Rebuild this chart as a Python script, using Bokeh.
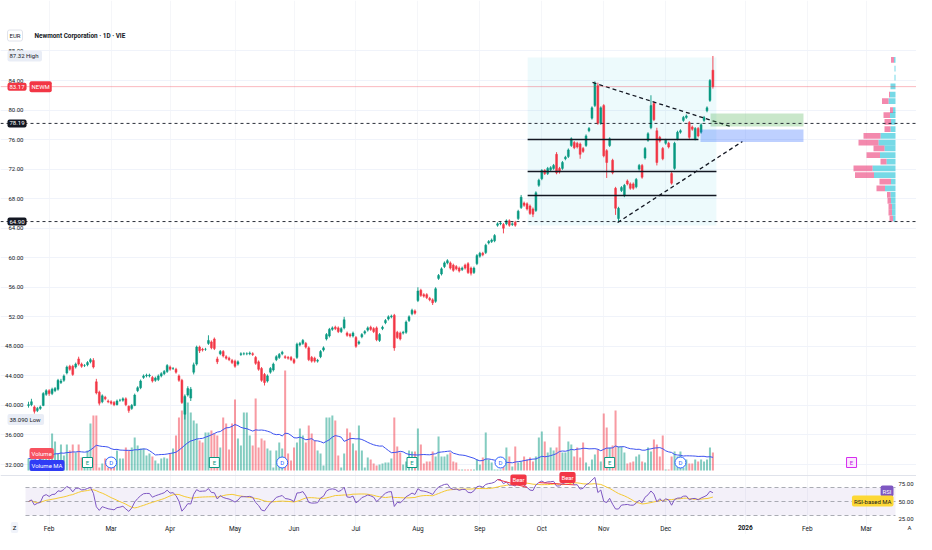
import numpy as np
import pandas as pd
from bokeh.plotting import figure
from bokeh.models import Range1d, LinearAxis, FixedTicker, Span, BoxAnnotation, Label, ColumnDataSource
from bokeh.embed import file_html
from bokeh.resources import INLINE
from bokeh.core.properties import value

# ---------------- data ----------------
O = [40.0,40.1,39.8,39.3,39.6,40.0,41.5,42.0,41.6,42.0,
     42.2,43.1,43.4,44.4,45.3,45.3,45.2,46.3,45.6,45.4,
     45.5,45.9,46.1,43.2,41.8,40.5,41.1,40.6,40.5,40.4,
     40.1,40.7,40.7,40.9,39.9,39.6,40.0,42.0,42.4,43.8,
     44.0,44.0,43.8,43.4,43.5,44.0,44.3,44.6,45.2,45.0,
     44.9,44.0,43.4,38.8,41.4,41.0,44.5,45.6,47.9,47.6,
     47.6,48.4,48.6,49.0,46.3,47.0,47.3,46.6,46.4,46.1,
     46.0,45.6,46.9,47.0,47.0,47.0,47.0,46.5,45.9,45.0,
     44.2,43.3,44.5,44.8,46.2,46.5,47.0,46.6,46.5,46.5,
     46.2,46.5,48.2,48.4,48.4,47.8,46.5,46.4,46.0,46.6,
     47.5,49.0,49.4,50.3,50.6,50.5,50.0,50.5,49.8,49.6,
     49.4,49.2,48.4,49.3,49.8,50.2,50.6,50.4,50.5,48.8,
     50.4,51.2,51.7,52.0,52.2,49.9,49.8,49.8,49.9,51.5,
     52.4,52.8,54.2,55.6,55.0,55.0,54.5,54.3,54.1,57.2,
     57.8,58.8,59.3,59.3,59.0,58.8,58.6,58.4,59.0,59.2,
     58.6,58.0,59.2,60.2,60.6,60.7,62.0,62.2,62.3,64.4,
     64.6,64.5,64.6,65.0,64.5,64.8,65.3,66.8,67.4,67.3,
     67.0,66.6,66.4,69.8,70.7,71.8,71.4,71.9,72.1,74.0,
     72.1,72.1,73.4,73.7,75.2,75.6,75.5,75.4,74.8,75.2,
     77.2,78.9,80.6,83.3,78.2,80.6,74.5,75.2,73.2,69.4,
     65.3,69.1,68.4,70.4,70.0,70.0,69.6,72.0,72.5,73.5,
     75.9,77.6,80.9,77.2,76.3,74.8,75.5,75.5,71.4,72.1,
     76.1,77.0,78.6,79.0,78.3,77.7,76.1,77.5,77.0,78.6,
     79.9,81.3,85.4]
C = [40.1,40.5,39.2,39.6,39.8,41.6,42.0,41.6,42.2,42.3,
     43.4,43.3,44.0,45.2,44.9,44.2,45.6,45.6,45.3,45.4,
     45.8,46.2,45.2,41.7,40.3,41.3,40.9,40.5,40.3,40.1,
     40.6,40.7,40.9,40.1,39.3,40.0,41.4,42.4,43.3,44.0,
     44.1,44.1,43.3,43.7,44.0,44.3,44.6,45.4,44.9,45.0,
     44.5,43.4,40.4,41.2,42.3,42.2,45.5,47.9,47.4,47.5,
     47.6,48.8,47.8,47.7,45.9,47.3,46.7,46.4,46.2,45.8,
     45.3,45.9,47.0,47.0,47.0,47.1,46.9,45.7,44.9,43.4,
     43.1,44.0,45.0,45.6,46.6,46.9,47.2,46.5,46.4,46.2,
     45.8,48.3,48.4,48.8,47.9,46.2,46.0,46.0,46.1,47.3,
     47.8,49.6,50.3,50.5,50.4,50.0,50.4,51.6,49.5,49.4,
     49.8,48.0,48.6,49.6,50.0,50.5,50.3,50.0,48.9,49.6,
     50.6,51.5,52.0,52.1,47.8,49.2,49.0,49.9,51.3,52.0,
     52.9,52.5,55.5,54.9,54.8,54.6,54.3,53.9,55.8,57.6,
     58.5,59.3,59.6,58.6,58.3,58.5,58.2,58.6,58.6,58.0,
     57.9,58.6,60.3,60.6,60.4,61.7,62.2,62.4,63.0,64.6,
     64.7,64.0,65.0,64.4,64.6,64.4,66.3,68.2,67.1,66.6,
     66.0,65.9,68.8,70.5,71.8,71.4,72.1,72.2,72.5,71.5,
     71.6,72.9,73.6,74.6,76.1,74.9,75.0,74.0,74.4,76.5,
     77.5,80.3,83.6,78.2,80.3,73.8,72.9,76.1,71.5,66.7,
     66.7,69.5,69.8,70.0,69.4,69.4,70.6,72.5,70.9,74.8,
     76.8,80.6,78.7,72.9,75.8,73.4,75.9,75.0,70.1,75.5,
     77.0,77.2,79.0,79.2,76.3,77.4,77.5,76.5,78.0,79.0,
     80.3,84.0,83.17]
H = [40.5,40.9,40.0,39.8,40.0,41.8,42.2,42.2,42.4,42.5,
     43.6,43.6,44.2,45.4,45.5,45.5,45.8,46.6,45.8,45.6,
     46.0,46.4,46.4,43.6,42.0,41.5,41.3,40.8,40.7,40.6,
     40.8,40.9,41.1,41.1,40.0,40.2,41.6,42.6,43.5,44.2,
     44.3,44.3,44.0,43.9,44.2,44.5,44.8,45.6,45.4,45.2,
     45.1,44.2,43.6,41.5,42.6,42.5,45.8,48.1,48.1,47.8,
     47.8,49.5,48.8,49.2,46.6,47.5,47.5,46.8,46.6,46.3,
     46.2,46.1,47.2,47.2,47.2,47.3,47.2,46.7,46.1,45.2,
     44.4,44.2,45.2,45.8,46.8,47.1,47.4,46.8,46.7,46.7,
     46.4,48.5,48.6,49.0,48.6,48.0,46.7,46.6,46.3,47.5,
     48.0,49.8,50.5,50.7,50.8,50.7,50.6,52.0,50.0,49.8,
     50.0,49.4,48.8,49.8,50.2,50.7,50.8,50.6,50.7,49.8,
     50.8,51.7,52.2,52.3,52.4,50.1,50.0,50.1,51.5,52.2,
     53.1,53.0,56.0,55.8,55.2,55.2,54.7,54.5,56.0,57.8,
     58.7,59.5,59.8,59.5,59.2,59.0,58.8,58.8,59.2,59.4,
     58.8,58.8,60.5,60.8,60.8,61.9,62.4,62.6,63.2,64.8,
     64.9,64.7,65.2,65.2,64.8,65.0,66.5,68.5,67.6,67.5,
     67.2,66.8,69.0,70.7,72.0,72.0,72.3,72.4,72.7,74.3,
     72.3,73.1,73.8,74.8,76.3,75.8,75.7,75.6,75.0,76.7,
     77.7,80.5,83.9,83.7,80.5,80.8,74.7,76.3,73.4,69.6,
     66.9,69.7,70.0,70.6,70.2,70.2,70.8,72.7,72.7,75.0,
     77.0,82.0,81.1,77.6,76.5,75.0,76.1,75.7,71.6,75.7,
     77.2,77.4,79.2,79.4,78.5,77.9,77.7,77.7,78.2,79.2,
     80.5,84.2,87.32]
L = [39.7,39.9,38.9,39.1,39.4,39.9,41.3,41.3,41.4,41.8,
     42.0,42.9,43.2,44.2,44.7,44.0,45.0,45.4,45.1,45.2,
     45.3,45.7,45.0,41.5,40.0,40.3,40.7,40.3,40.1,39.9,
     40.0,40.5,40.5,39.9,39.0,39.4,39.9,41.8,42.2,43.6,
     43.8,43.8,43.1,43.2,43.3,43.8,44.1,44.4,44.7,44.8,
     44.3,43.2,40.2,38.09,41.2,40.6,44.2,45.4,47.1,47.3,
     47.4,48.2,47.6,47.5,45.6,46.8,46.5,46.2,46.0,45.6,
     45.1,45.4,46.7,46.8,46.8,46.8,46.7,45.5,44.7,43.2,
     42.7,43.1,44.3,44.6,46.0,46.3,46.8,46.3,46.2,46.0,
     45.6,46.3,48.0,48.2,47.7,46.0,45.8,45.8,45.8,46.4,
     47.3,48.8,49.2,50.1,50.2,49.8,49.8,50.3,49.3,49.2,
     49.2,47.8,48.2,49.1,49.6,50.0,50.1,49.8,48.7,48.6,
     50.2,51.0,51.5,51.8,47.4,49.0,48.8,49.6,49.7,51.3,
     52.2,52.3,54.0,54.7,54.6,54.4,54.1,53.6,53.9,57.0,
     57.6,58.6,59.1,58.4,58.1,58.3,58.0,58.2,58.4,57.8,
     57.6,57.8,59.0,60.0,60.2,60.5,61.8,62.0,62.1,64.2,
     64.4,63.3,64.4,64.2,64.3,64.2,65.1,66.6,66.9,66.4,
     65.8,65.5,66.2,69.6,70.5,71.2,71.2,71.7,71.9,71.3,
     71.4,71.9,73.2,73.5,75.0,74.7,74.8,73.4,74.2,75.0,
     77.0,78.7,80.4,78.0,78.0,73.6,70.8,75.0,71.3,65.8,
     64.9,68.9,68.2,69.8,69.2,69.2,69.4,71.8,70.7,73.3,
     75.7,77.4,78.5,72.5,75.6,73.2,75.3,74.8,69.9,71.9,
     75.9,76.8,78.4,78.8,76.1,77.2,75.9,76.3,76.8,78.4,
     79.7,81.1,82.9]
VOL = [12,12,10,5,17,17,15,13,37,29,
       17,26,15,26,20,26,18,26,13,13,
       20,47,55,55,3,7,12,3,6,12,
       20,12,12,23,20,23,33,25,22,22,
       15,17,14,10,7,12,13,12,17,22,
       35,53,60,75,68,58,50,47,30,28,
       38,38,40,37,35,23,53,47,21,47,
       71,32,25,58,58,35,25,72,23,32,
       30,22,20,3,20,28,22,100,17,10,
       23,28,42,35,28,45,37,30,20,17,
       5,53,53,55,50,15,3,17,42,38,
       27,20,45,20,3,13,11,7,5,6,
       7,8,8,12,53,24,18,6,9,20,
       19,19,42,26,7,9,9,19,14,34,
       14,14,16,18,9,8,1,1,1,1,
       1,1,11,6,13,38,11,8,1,1,
       1,9,23,14,4,24,8,9,14,11,
       13,9,14,33,39,29,18,23,20,23,
       44,18,18,29,26,14,23,13,28,8,
       4,11,16,21,9,57,43,23,25,60,
       24,24,18,7,8,9,14,16,9,8,
       23,19,31,26,14,35,1,1,14,19,
       14,19,3,11,7,7,11,9,11,9,
       11,23,18]

month_pos = [7, 28, 48, 70, 90, 111, 132, 153, 174, 195, 216, 243, 264, 284]
month_lbl = ["Feb", "Mar", "Apr", "May", "Jun", "Jul", "Aug", "Sep", "Oct", "Nov", "Dec", "2026", "Feb", "Mar"]

price_ticks = [32, 36, 40, 44, 48, 52, 56, 60, 64, 68, 72, 76, 80, 84, 88]
price_tick_lbl = ["32.000", "36.000", "40.000", "44.000", "48.000", "52.00", "56.00", "60.00",
                  "64.00", "68.00", "72.00", "76.00", "80.00", "84.00", "88.00"]
rsi_ticks = [25, 50, 75]
rsi_tick_lbl = ["25.00", "50.00", "75.00"]

levels = [78.19, 64.90]           # dashed horizontal levels
high_val, low_val = 87.32, 38.09

# chart drawings (bar index / price)
pattern_box = dict(left=169.2, right=233.2, bottom=64.37, top=87.11)
hlines_x0 = [169.2, 169.2, 169.2]
hlines_x1 = [227.1, 233.2, 233.2]
hlines_y = [76.01, 71.68, 68.43]
tri_x0 = [191.2, 199.7]
tri_y0 = [83.73, 64.77]
tri_x1 = [238.0, 242.0]
tri_y1 = [77.77, 75.74]
zone_green = dict(left=231.2, right=262.7, bottom=77.77, top=79.53)
zone_blue = dict(left=227.8, right=262.7, bottom=75.67, top=77.37)

# volume profile (price row, down volume, up volume)
vp_price = [86.8, 85.6, 84.4, 83.2, 82.1, 81.2, 80.0, 79.3, 78.4, 77.4, 76.5, 75.6, 74.8,
            73.9, 73.0, 72.1, 71.2, 70.3, 69.4, 68.5, 67.7, 66.9, 66.1, 65.3]
vp_down = [3, 0, 0, 0, 1, 6.5, 3, 6.5, 6.5, 6, 17, 20, 11, 13.5, 6, 19, 19, 11.5, 8.5,
           3.5, 3.5, 3.5, 3.5, 3.5]
vp_up = [1.5, 1, 1, 5, 5.5, 7, 2.5, 5.5, 4.5, 5, 15, 17, 11, 15.5, 9, 23, 21.5, 4.5, 10.5,
         5, 4.5, 3.5, 3.5, 2.5]

earn_idx = [20, 63, 130, 197]
div_idx = [28, 86, 160, 221]
next_earn_idx = [279]
bear_from = [159, 173]
bear_to = [169, 185]

# ---------------- layout helpers (canvas pixel <-> data) ----------------
W, HGT = 916, 534
DX = 2.95                   # px per bar
X0 = 28.0                   # x of bar 0
PANE_R = 895                # right edge of the panes (volume profile anchor)
def px2idx(px):
    return (px - X0) / DX
def py2price(py):
    return 84 - (py - 80) / 7.385
RSI70_Y, RSI_PX = 487.0, 0.7
def py2rsi(py):
    return 70 - (py - RSI70_Y) / RSI_PX
def py2vol(py):
    return 470 - py

GREEN = "#089981"
RED = "#f23645"
TXT = "#131722"
FONT = "Roboto"

# ---------------- indicators ----------------
c = np.array(C)
d = np.diff(c)
g = np.clip(d, 0, None)
ls = np.clip(-d, 0, None)
seed = np.mean(np.abs(d[:14])) / 2
ag, al = [seed], [seed]
for gi, li in zip(g, ls):
    ag.append((ag[-1] * 13 + gi) / 14)
    al.append((al[-1] * 13 + li) / 14)
ag, al = np.array(ag), np.array(al)
rsi = 100 - 100 / (1 + ag / al)
rsi_ma = pd.Series(rsi).rolling(14, min_periods=1).mean().values
vol_ma = pd.Series(VOL, dtype=float).rolling(20, min_periods=1).mean().values

idx = np.arange(len(C))
up = c >= np.array(O)
col = np.where(up, GREEN, RED)
src = ColumnDataSource(dict(x=idx, o=O, h=H, l=L, c=C, v=VOL, col=col))

# ---------------- figure ----------------
p = figure(width=W, height=HGT, output_backend="svg", toolbar_location=None,
           x_range=Range1d(px2idx(0), px2idx(W)),
           y_range=Range1d(py2price(HGT), py2price(0)),
           min_border=0, min_border_left=0, min_border_right=0, min_border_top=0, min_border_bottom=0)
p.extra_y_ranges = {"vol": Range1d(py2vol(HGT), py2vol(0)),
                    "rsi": Range1d(py2rsi(HGT), py2rsi(0))}
p.extra_x_ranges = {"vp": Range1d(PANE_R, PANE_R - W)}   # 0 at the pane's right edge, growing leftwards
p.outline_line_color = None
p.background_fill_color = "white"
p.border_fill_color = "white"

# axes (drawn at fixed positions so their labels sit where the reference has them)
ya = p.yaxis[0]
ya.ticker = FixedTicker(ticks=price_ticks)
ya.major_label_overrides = {t: s for t, s in zip(price_ticks, price_tick_lbl)}
ya.fixed_location = px2idx(25)
ya.major_label_standoff = 2
ya.major_label_text_font_size = "6px"
xa = p.xaxis[0]
xa.ticker = FixedTicker(ticks=month_pos)
xa.major_label_overrides = {t: ("" if s == "2026" else s) for t, s in zip(month_pos, month_lbl)}
xa.fixed_location = py2price(522)
xa.major_label_standoff = 2
xa.major_label_text_font_size = "6.5px"

rax = LinearAxis(y_range_name="rsi", ticker=FixedTicker(ticks=rsi_ticks),
                 major_label_overrides={t: s for t, s in zip(rsi_ticks, rsi_tick_lbl)})
rax.fixed_location = px2idx(PANE_R + 1)
rax.major_label_text_font_size = "6px"
rax.major_label_standoff = 2
p.add_layout(rax, "right")
for ax in (ya, xa, rax):
    ax.axis_line_color = None
    ax.major_tick_line_color = None
    ax.minor_tick_line_color = None
    ax.major_tick_out = 0
    ax.major_tick_in = 0
    ax.minor_tick_out = 0
    ax.minor_tick_in = 0
    ax.major_label_text_font = FONT
    ax.major_label_text_color = TXT

p.ygrid.grid_line_color = "#f0f3fa"
p.xgrid.grid_line_color = "#f5f6f9"

# RSI pane decorations
p.add_layout(BoxAnnotation(left=px2idx(25), right=px2idx(PANE_R), bottom=30, top=70, y_range_name="rsi",
                           fill_color="#7e57c2", fill_alpha=0.09, line_color=None, level="underlay"))
band_x0 = [px2idx(25)] * 3
band_x1 = [px2idx(PANE_R)] * 3
p.segment(x0=band_x0, x1=band_x1, y0=[70, 50, 30], y1=[70, 50, 30], y_range_name="rsi",
          line_color="#9598a1", line_dash="4 3", line_width=0.8)
p.add_layout(Span(location=py2rsi(475), dimension="width", y_range_name="rsi",
                  line_color="#e0e3eb", line_width=1))

# pattern box
p.quad(left=[pattern_box["left"]], right=[pattern_box["right"]], bottom=[pattern_box["bottom"]],
       top=[pattern_box["top"]], fill_color="#00bcd4", fill_alpha=0.07, line_color=None)

# price lines
p.add_layout(Span(location=C[-1], dimension="width", line_color=RED, line_alpha=0.35, line_width=1))
for lv in levels:
    p.add_layout(Span(location=lv, dimension="width", line_color=TXT, line_dash="3 3", line_width=0.9))

# volume
p.vbar(x="x", width=0.68, top="v", bottom=0, fill_color="col", fill_alpha=0.5, line_color=None,
       y_range_name="vol", source=src)
p.line(idx, vol_ma, line_color="#3d52f0", line_width=1, y_range_name="vol")

# candles
p.segment(x0="x", y0="l", x1="x", y1="h", line_color="col", line_width=0.9, source=src)
p.vbar(x="x", width=0.64, top="o", bottom="c", fill_color="col", line_color="col", line_width=0.5,
       source=src)

# drawings
p.segment(x0=hlines_x0, y0=hlines_y, x1=hlines_x1, y1=hlines_y, line_color=TXT, line_width=1.4)
p.segment(x0=tri_x0, y0=tri_y0, x1=tri_x1, y1=tri_y1, line_color=TXT, line_width=1.3, line_dash="4 3")
p.quad(left=[zone_green["left"]], right=[zone_green["right"]], bottom=[zone_green["bottom"]],
       top=[zone_green["top"]], fill_color="#4caf50", fill_alpha=0.3, line_color=None)
p.quad(left=[zone_blue["left"]], right=[zone_blue["right"]], bottom=[zone_blue["bottom"]],
       top=[zone_blue["top"]], fill_color="#2962ff", fill_alpha=0.3, line_color=None)

# volume profile
vp_tot = [u + dn for u, dn in zip(vp_up, vp_down)]
p.hbar(y=vp_price, height=0.78, left=0, right=vp_up, x_range_name="vp",
       fill_color="#22c1d6", fill_alpha=0.62, line_color=None)
p.hbar(y=vp_price, height=0.78, left=vp_up, right=vp_tot, x_range_name="vp",
       fill_color="#ec407a", fill_alpha=0.62, line_color=None)

# RSI
p.line(idx, rsi_ma, line_color="#f5c932", line_width=1, y_range_name="rsi")
p.line(idx, rsi, line_color="#7e57c2", line_width=1, y_range_name="rsi")
p.segment(x0=bear_from, y0=[rsi[i] for i in bear_from], x1=bear_to, y1=[rsi[i] for i in bear_to],
          line_color=RED, line_width=1, y_range_name="rsi")

# event markers
mk_y = py2vol(462)
p.scatter(x=earn_idx, y=[mk_y] * len(earn_idx), marker="square", size=10, fill_color="white",
          line_color=GREEN, line_width=1, y_range_name="vol")
p.text(x=earn_idx, y=[mk_y] * len(earn_idx), text=["E"] * len(earn_idx), text_font=value(FONT),
       text_font_size="6px", text_color=GREEN, text_align="center", text_baseline="middle",
       y_range_name="vol")
p.scatter(x=div_idx, y=[mk_y] * len(div_idx), marker="circle", size=11, fill_color="white",
          line_color="#2962ff", line_width=1, y_range_name="vol")
p.text(x=div_idx, y=[mk_y] * len(div_idx), text=["D"] * len(div_idx), text_font=value(FONT),
       text_font_size="6px", text_color="#2962ff", text_align="center", text_baseline="middle",
       y_range_name="vol")
p.scatter(x=next_earn_idx, y=[mk_y], marker="square", size=10, fill_color="#fbe9fd",
          line_color="#d62bf0", line_width=1, y_range_name="vol")
p.text(x=next_earn_idx, y=[mk_y], text=["E"], text_font=value(FONT), text_font_size="6px",
       text_color="#c21fe0", text_align="center", text_baseline="middle", y_range_name="vol")

# ---------------- tags / labels ----------------
def tag(text, x, y, bg, fg, yr="default", align="left", size="6px", style="normal", border=None,
        baseline="middle", yoff=0):
    lab = Label(x=x, y=y, text=text, y_range_name=yr, text_align=align, text_baseline=baseline,
                text_font=FONT, text_font_size=size, text_color=fg, text_font_style=style,
                background_fill_color=bg, background_fill_alpha=1.0 if bg else 0.0,
                border_line_color=border, padding=2, border_radius=2, y_offset=yoff)
    p.add_layout(lab)

tag("EUR", px2idx(7), py2price(35), "white", TXT, border="#e0e3eb")
tag("Newmont Corporation \u00b7 1D \u00b7 VIE", px2idx(32), py2price(35), None, TXT, size="6.4px", style="bold")
tag("%.2f  High" % high_val, px2idx(7), high_val, "#e9edf6", TXT)
tag("%.2f" % C[-1], px2idx(7), C[-1], RED, "white")
tag("NEWM", px2idx(29), C[-1], RED, "white")
tag("%.2f" % levels[0], px2idx(7), levels[0], TXT, "white")
tag("%.2f" % levels[1], px2idx(7), levels[1], TXT, "white")
tag("%.3f  Low" % low_val, px2idx(7), low_val, "#e9edf6", TXT)
tag("Volume", px2idx(29), py2vol(453), "#f7525f", "white", yr="vol")
tag("Volume MA", px2idx(29), py2vol(465), "#2f3cf5", "white", yr="vol")
tag("RSI", px2idx(PANE_R - 2), py2rsi(490.5), "#7e57c2", "white", yr="rsi", align="right")
tag("RSI-based MA", px2idx(PANE_R - 2), py2rsi(500.5), "#fdd835", TXT, yr="rsi", align="right")
for b_i, b_x in zip(bear_to, [518, 567]):
    tag("Bear", px2idx(b_x), rsi[b_i], RED, "white", yr="rsi", align="center", baseline="bottom", yoff=2)
tag("Z", px2idx(14), py2price(527), "#f0f3fa", TXT, align="center")
tag("A", px2idx(909), py2price(527), None, TXT, align="center")
p.add_layout(Label(x=month_pos[month_lbl.index("2026")], y=py2price(524), text="2026",
                   text_align="center", text_baseline="top", text_font=FONT,
                   text_font_size="6.5px", text_font_style="bold", text_color=TXT))

open("out.html", "w").write(file_html(p, INLINE))
